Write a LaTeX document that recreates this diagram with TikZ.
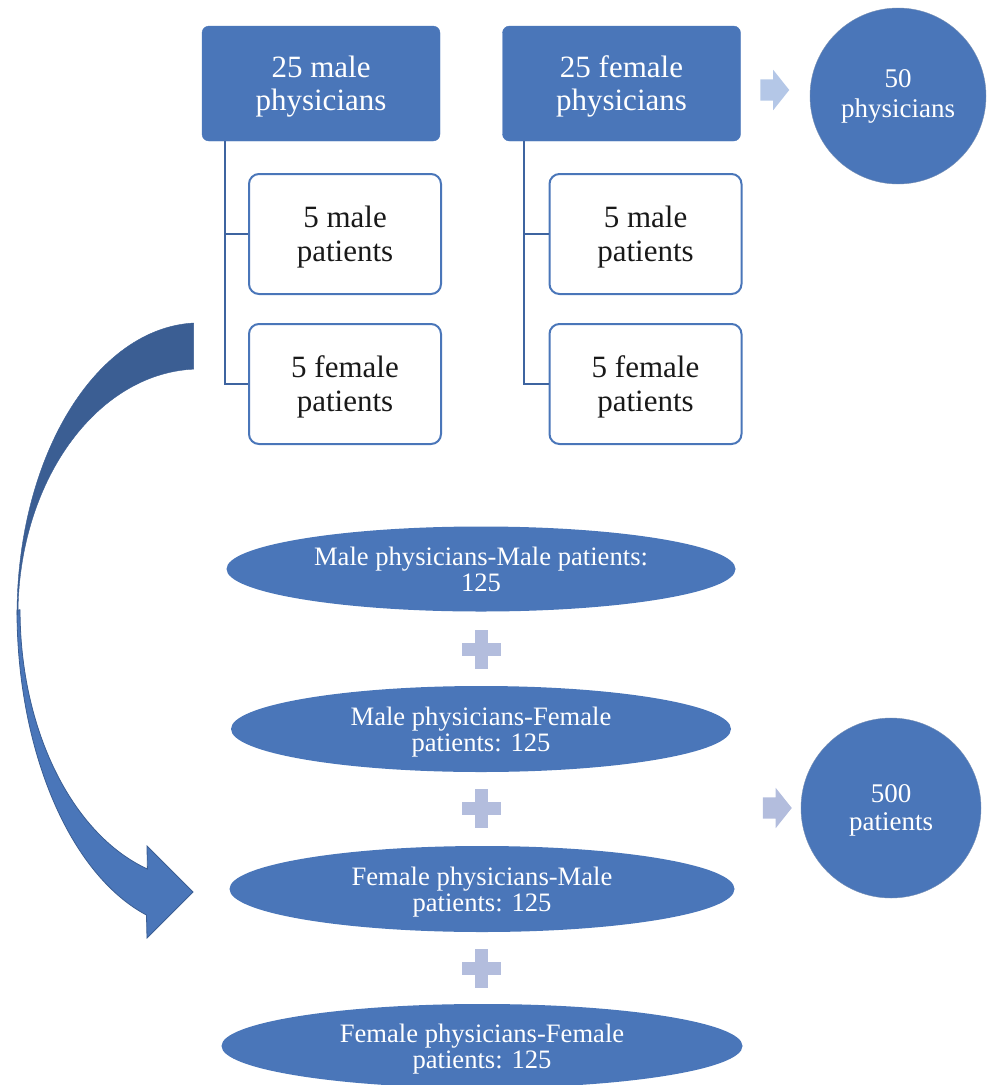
\documentclass[tikz,border=0pt]{standalone}
\usepackage{fontspec}
\setmainfont{Liberation Serif}
\usepackage{tikz}
\usetikzlibrary{shapes.geometric, shapes.arrows, positioning}
\definecolor{azul}{HTML}{4A76B9}
\definecolor{azuloscuro}{HTML}{3B5E93}
\definecolor{celeste}{HTML}{B4C7E7}
\definecolor{lila}{HTML}{B3BDDD}
\definecolor{rama}{HTML}{3E64A0}

\tikzset{
    medico/.style={rectangle, rounded corners=7pt, fill=azul, draw=azul, text=white, text depth=0pt,
        minimum width=238pt, minimum height=115pt, align=center, font=\fontsize{31}{33}\selectfont},
    paciente/.style={rectangle, rounded corners=10pt, fill=white, draw=azul, line width=2pt, text depth=0pt,
        text=black!90, minimum width=192pt, minimum height=120pt, align=center, font=\fontsize{31}{34}\selectfont},
    grupo/.style={ellipse, fill=azul, text=white, inner sep=0pt, text depth=0pt, align=center,
        font=\fontsize{26.6}{26}\selectfont},
    total/.style={circle, fill=azul, draw=azuloscuro!70, text=white, inner sep=0pt, align=center,
        font=\fontsize{27}{30}\selectfont},
    flecha/.style={single arrow, inner xsep=0pt, inner ysep=10.5pt, single arrow head extend=9.5pt,
        single arrow tip angle=103, minimum height=29pt},
    linea/.style={draw=rama, line width=2pt},
}

\begin{document}
\begin{tikzpicture}[x=1pt, y=-1pt]
        \useasboundingbox (0,0) rectangle (988,1085);
        % Médicos y sus pacientes
        \node[medico] (mh) at (321,83.5) {25 male\\physicians};
        \node[medico] (mm) at (621.5,83.5) {25 female\\physicians};
        \node[paciente] (mhm) at (345,234) {5 male\\patients};
        \node[paciente] (mhf) at (345,384) {5 female\\patients};
        \node[paciente] (mmm) at (645.5,234) {5 male\\patients};
        \node[paciente] (mmf) at (645.5,384) {5 female\\patients};
        \draw[linea] (mh.south west) ++(23,0) |- (mhm.west);
        \draw[linea] (mh.south west) ++(23,0) |- (mhf.west);
        \draw[linea] (mm.south west) ++(22,0) |- (mmm.west);
        \draw[linea] (mm.south west) ++(22,0) |- (mmf.west);
        % Total de médicos
        \node[flecha, fill=celeste] (f1) at (770.5,90) {};
        \node[total, minimum size=176pt] (t1) at (898,96) {50\\physicians};
        % Flecha curva
        \draw[fill=azul, draw=azuloscuro, line width=0.8pt] (17,610)
            arc[start angle=180, end angle=107, x radius=183, y radius=319]
            -- (147,938) -- (193,892) -- (147,846) -- (147.4,869)
            arc[start angle=107, end angle=180, x radius=180, y radius=271] -- cycle;
        \draw[fill=azuloscuro, draw=azuloscuro] (193.6,323)
            arc[start angle=-92, end angle=-180, x radius=183, y radius=292] -- (18,615)
            arc[start angle=180, end angle=268, x radius=182, y radius=246] -- cycle;
        % Combinaciones
        \node[grupo, minimum width=509pt, minimum height=85pt] (g1) at (481,569) {Male physicians-Male patients:\\125};
        \node[grupo, minimum width=500pt, minimum height=86pt] (g2) at (481,729) {Male physicians-Female\\patients: 125};
        \node[grupo, minimum width=505pt, minimum height=86pt] (g3) at (482,889) {Female physicians-Male\\patients: 125};
        \node[grupo, minimum width=521pt, minimum height=84pt] (g4) at (482,1046) {Female physicians-Female\\patients: 125};
        \foreach \y in {649,808,968} {
            \fill[lila] (481-19.5,\y-6.5) rectangle ++(39,13);
            \fill[lila] (481-6.5,\y-19.5) rectangle ++(13,39);
        }
        % Total de pacientes
        \node[flecha, fill=lila] (f2) at (773,808) {};
        \node[total, minimum size=180pt, text depth=0pt, font=\fontsize{27}{28}\selectfont] (t2) at (891,808) {500\\patients};
\end{tikzpicture}
\end{document}
